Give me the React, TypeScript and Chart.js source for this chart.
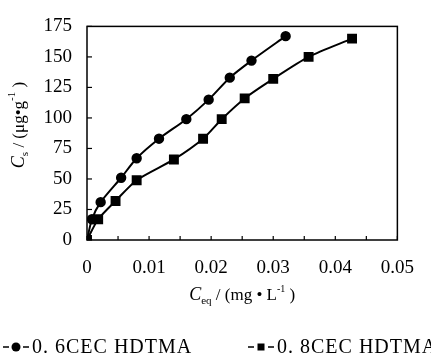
import { useEffect, useRef } from "react";
import { Chart, registerables } from "chart.js";
Chart.register(...registerables);

const ceq06 = [0, 0.0008, 0.0022, 0.0055, 0.008, 0.0116, 0.016, 0.0196, 0.023, 0.0265, 0.032];
const cs06 = [0, 17, 31, 51, 67, 83, 99, 115, 133, 147, 167];
const ceq08 = [0, 0.0018, 0.0046, 0.008, 0.014, 0.0187, 0.0217, 0.0254, 0.03, 0.0357, 0.0427];
const cs08 = [0, 17, 32, 49, 66, 83, 99, 116, 132, 150, 165];
const seriesNames = ["0. 6CEC HDTMA", "0. 8CEC HDTMA"];
const xTicks = [0, 0.01, 0.02, 0.03, 0.04, 0.05];
const yTicks = [0, 25, 50, 75, 100, 125, 150, 175];

const SERIF = "'Liberation Serif', 'DejaVu Serif', serif";

const framePlugin = {
  id: "frame",
  afterDraw(chart: any) {
    const ctx = chart.ctx as CanvasRenderingContext2D;
    const a = chart.chartArea;
    const xs = chart.scales.x;
    const ys = chart.scales.y;
    ctx.save();
    ctx.strokeStyle = "#000";
    ctx.lineWidth = 1.5;
    ctx.strokeRect(a.left, a.top, a.right - a.left, a.bottom - a.top);
    ctx.lineWidth = 1.2;
    for (let i = 0; i <= 10; i++) {
      const px = xs.getPixelForValue(i * 0.005);
      ctx.beginPath();
      ctx.moveTo(px, a.bottom);
      ctx.lineTo(px, a.bottom - 4);
      ctx.stroke();
    }
    for (const v of yTicks) {
      const py = ys.getPixelForValue(v);
      ctx.beginPath();
      ctx.moveTo(a.left, py);
      ctx.lineTo(a.left + 5, py);
      ctx.stroke();
    }
    ctx.fillStyle = "#000";
    ctx.textBaseline = "alphabetic";
    const cx = (a.left + a.right) / 2;
    const parts: [string, string, number][] = [
      ["C", "italic 18px " + SERIF, 0],
      ["eq", "11px " + SERIF, 4],
      [" / (mg \u2022 L", "17px " + SERIF, 0],
      ["-1", "10px " + SERIF, -8],
      [" )", "17px " + SERIF, 0],
    ];
    let total = 0;
    for (const p of parts) { ctx.font = p[1]; total += ctx.measureText(p[0]).width; }
    let x = cx - total / 2;
    for (const p of parts) {
      ctx.font = p[1];
      ctx.fillText(p[0], x, 300 + p[2]);
      x += ctx.measureText(p[0]).width;
    }
    ctx.save();
    ctx.translate(24, 125);
    ctx.rotate(-Math.PI / 2);
    const yparts: [string, string, number][] = [
      ["C", "italic 18px " + SERIF, 0],
      ["s", "11px " + SERIF, 4],
      [" / (\u03bcg\u2022g", "17px " + SERIF, 0],
      ["-1", "11px " + SERIF, -9],
      [" )", "17px " + SERIF, 0],
    ];
    total = 0;
    for (const p of yparts) { ctx.font = p[1]; total += ctx.measureText(p[0]).width; }
    x = -total / 2;
    for (const p of yparts) {
      ctx.font = p[1];
      ctx.fillText(p[0], x, p[2]);
      x += ctx.measureText(p[0]).width;
    }
    ctx.restore();
    const ly = 347;
    const drawEntry = (sx: number, style: string, label: string) => {
      ctx.lineWidth = 1.5;
      ctx.beginPath();
      ctx.moveTo(sx, ly); ctx.lineTo(sx + 6, ly);
      ctx.moveTo(sx + 20, ly); ctx.lineTo(sx + 26, ly);
      ctx.stroke();
      if (style === "circle") {
        ctx.beginPath();
        ctx.arc(sx + 13, ly, 4.5, 0, Math.PI * 2);
        ctx.fill();
      } else {
        ctx.fillRect(sx + 9.5, ly - 3.5, 7, 7);
      }
      ctx.font = "20px " + SERIF;
      (ctx as any).letterSpacing = "1px";
      ctx.textBaseline = "middle";
      ctx.fillText(label, sx + 29, ly + 1);
      (ctx as any).letterSpacing = "0px";
    };
    drawEntry(3, "circle", seriesNames[0]);
    drawEntry(248, "rect", seriesNames[1]);
    ctx.restore();
  },
};

export default function App() {
  const ref = useRef<HTMLCanvasElement>(null);
  useEffect(() => {
    if (!ref.current) return;
    const chart = new Chart(ref.current, {
      type: "scatter",
      data: {
        datasets: [
          {
            label: seriesNames[0],
            data: ceq06.map((v, i) => ({ x: v, y: cs06[i] })),
            showLine: true,
            borderColor: "#000",
            backgroundColor: "#000",
            borderWidth: 2,
            pointStyle: "circle",
            pointRadius: 4.2,
            tension: 0.25,
          },
          {
            label: seriesNames[1],
            data: ceq08.map((v, i) => ({ x: v, y: cs08[i] })),
            showLine: true,
            borderColor: "#000",
            backgroundColor: "#000",
            borderWidth: 2,
            pointStyle: "rect",
            pointRadius: 5.6,
            tension: 0.25,
          },
        ],
      },
      options: {
        animation: false,
        responsive: true,
        maintainAspectRatio: false,
        layout: { padding: { top: 17, right: 16, left: 0, bottom: 0 } },
        plugins: { legend: { display: false }, tooltip: { enabled: false } },
        scales: {
          x: {
            type: "linear",
            min: 0,
            max: 0.05,
            afterFit: (s: any) => { s.height = 122; },
            afterBuildTicks: (s: any) => { s.ticks = xTicks.map((v) => ({ value: v })); },
            grid: { display: false, drawTicks: false },
            border: { display: false },
            ticks: {
              padding: 17,
              color: "#000",
              font: { family: SERIF, size: 19 },
              callback: (v: any) => (v === 0 ? "0" : Number(v).toFixed(2)),
            },
          },
          y: {
            type: "linear",
            min: 0,
            max: 175,
            afterFit: (s: any) => { s.width = 87; },
            afterBuildTicks: (s: any) => { s.ticks = yTicks.map((v) => ({ value: v })); },
            grid: { display: false, drawTicks: false },
            border: { display: false },
            ticks: {
              padding: 15,
              color: "#000",
              font: { family: SERIF, size: 19 },
            },
          },
        },
      },
      plugins: [framePlugin],
    });
    return () => chart.destroy();
  }, []);
  return (
    <div style={{ position: "absolute", left: 0, top: 0, width: 431, height: 362, background: "#fff" }}>
      <canvas ref={ref} />
    </div>
  );
}
